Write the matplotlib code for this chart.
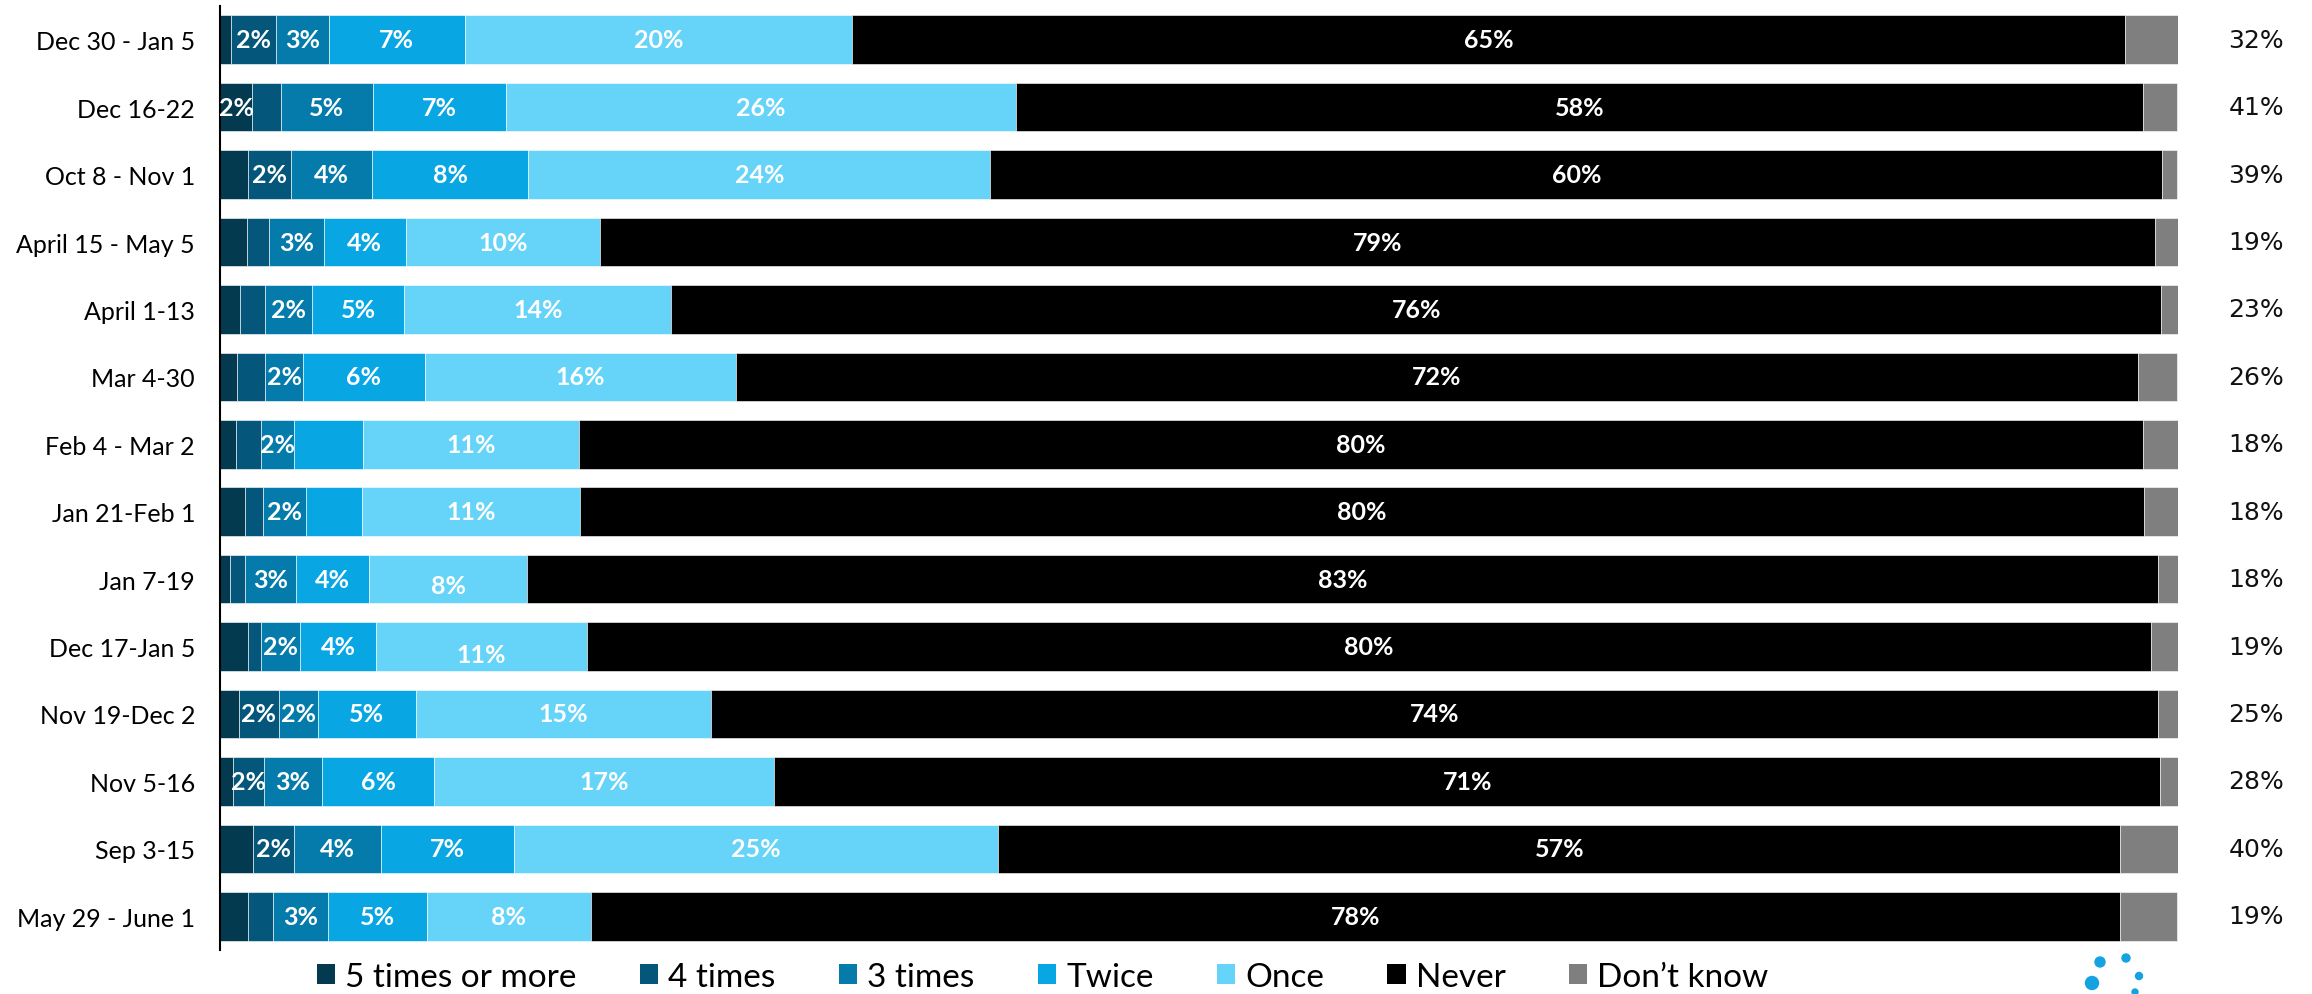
import numpy as np
import matplotlib.pyplot as plt
from matplotlib.patches import Patch, Circle

periods = ['Dec 30 - Jan 5', 'Dec 16-22', 'Oct 8 - Nov 1', 'April 15 - May 5', 'April 1-13',
           'Mar 4-30', 'Feb 4 - Mar 2', 'Jan 21-Feb 1', 'Jan 7-19', 'Dec 17-Jan 5',
           'Nov 19-Dec 2', 'Nov 5-16', 'Sep 3-15', 'May 29 - June 1']

five_plus = [0.55, 1.64, 1.45, 1.4, 1.0, 0.85, 0.8, 1.3, 0.5, 1.45, 0.95, 0.65, 1.7, 1.45]
four_times = [2.3, 1.45, 2.2, 1.1, 1.3, 1.45, 1.3, 0.9, 0.8, 0.65, 2.05, 1.6, 2.1, 1.25]
three_times = [2.7, 4.7, 4.1, 2.8, 2.4, 1.95, 1.7, 2.2, 2.6, 2.0, 2.0, 2.95, 4.4, 2.8]
twice = [6.95, 6.84, 8.0, 4.2, 4.7, 6.2, 3.5, 2.85, 3.7, 3.85, 5.0, 5.75, 6.8, 5.05]
once = [19.8, 26.0, 23.6, 9.9, 13.65, 15.9, 11.05, 11.15, 8.1, 10.8, 15.1, 17.35, 24.75, 8.4]
never = [65.0, 57.6, 59.85, 79.45, 76.1, 71.6, 79.85, 79.85, 83.3, 79.85, 73.9, 70.8, 57.3, 78.1]
dont_know = [2.7, 1.7, 0.75, 1.15, 0.9, 2.0, 1.8, 1.8, 1.0, 1.4, 1.0, 0.9, 3.0, 2.9]
at_least_once = ['32%', '41%', '39%', '19%', '23%', '26%', '18%', '18%', '18%', '19%',
                 '25%', '28%', '40%', '19%']

series_names = ['5 times or more', '4 times', '3 times', 'Twice', 'Once', 'Never', 'Don\u2019t know']
colors = ['#033a4f', '#04577a', '#057bab', '#09a6e4', '#66d3f9', '#000000', '#7f7f7f']
# labels that the original chart leaves out
no_label = {(6, 3), (7, 3), (12, 0)}
label_dy = {(8, 4): 0.1, (9, 4): 0.12}

data = np.array([five_plus, four_times, three_times, twice, once, never, dont_know])

fig = plt.figure(figsize=(23.12, 9.95), dpi=100)
ax = fig.add_axes([220 / 2312, 1 - 951 / 995, (2178 - 220) / 2312, (951 - 7) / 995])

y = np.arange(len(periods))
left = np.zeros(len(periods))
for s in range(len(series_names)):
    ax.barh(y, data[s], left=left, height=0.72, color=colors[s],
            edgecolor='white', linewidth=0.4)
    if s < 6:
        for i, v in enumerate(data[s]):
            if round(v) >= 2 and (i, s) not in no_label:
                ax.text(left[i] + v / 2, y[i] + label_dy.get((i, s), 0), f'{round(v)}%',
                        ha='center', va='center', color='white', fontsize=18,
                        fontweight='bold', family=['Lato', 'DejaVu Sans'])
    left += data[s]

for i, t in enumerate(at_least_once):
    ax.text(1.04, y[i], t, transform=ax.get_yaxis_transform(), ha='center', va='center',
            fontsize=18, color='#111111', family='DejaVu Sans')

ax.set_xlim(0, 100)
ax.set_ylim(len(periods) - 0.5, -0.5)
ax.set_yticks(y)
ax.set_yticklabels(periods, fontsize=18, family=['Lato', 'DejaVu Sans'])
ax.tick_params(axis='y', length=0, pad=18)
ax.set_xticks([])
for sp in ['top', 'right', 'bottom']:
    ax.spines[sp].set_visible(False)
ax.spines['left'].set_linewidth(1.5)

handles = [Patch(facecolor=c, edgecolor='none') for c in colors]
fig.legend(handles, series_names, loc='center', bbox_to_anchor=(0.451, 0.017), ncol=7,
           frameon=False, prop={'family': ['Lato', 'DejaVu Sans'], 'size': 24},
           handlelength=0.55, handleheight=0.55, handletextpad=0.3, columnspacing=1.9)

# partial logo at the bottom right
logo = fig.add_axes([2070 / 2312, 0, 90 / 2312, 45 / 995])
logo.set_xlim(2070, 2160)
logo.set_ylim(995, 950)
logo.axis('off')
for cx, cy, r in [(2100, 963, 5), (2126, 959, 4), (2139, 977, 3.5), (2092, 984, 6.5), (2135, 993, 3)]:
    logo.add_patch(Circle((cx, cy), r, color='#14a3e0'))
logo.set_aspect('equal')

fig.savefig('out.png', dpi=100)
